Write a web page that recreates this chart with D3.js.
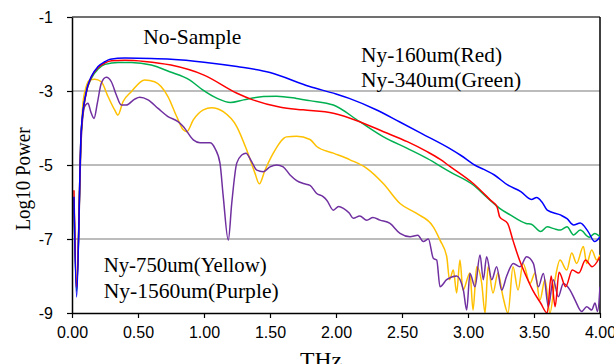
<!DOCTYPE html>
<html>
<head>
<meta charset="utf-8">
<script src="https://cdn.jsdelivr.net/npm/d3@7"></script>
<style>
  body { margin: 0; background: #fff; }
  svg { display: block; }
</style>
</head>
<body>
<div id="chart"></div>
<script>
const MARGIN = { top: 17, right: 14, bottom: 51, left: 72 };
const WIDTH = 614 - MARGIN.left - MARGIN.right;
const HEIGHT = 364 - MARGIN.top - MARGIN.bottom;

// tick values
const xTicks = [0, 0.5, 1, 1.5, 2, 2.5, 3, 3.5, 4];
const yTicks = [-1, -3, -5, -7, -9];
const gridValues = [-3, -5, -7];

// [THz, log10 power]
const noSample = [
  [0.015, -5.86], [0.035, -8.57], [0.07, -4.05], [0.108, -3.02], [0.146, -2.61],
  [0.197, -2.34], [0.248, -2.21], [0.29, -2.14], [0.4, -2.11], [0.6, -2.12],
  [0.75, -2.14], [1.0, -2.22], [1.25, -2.34], [1.5, -2.5], [1.8, -2.88],
  [2.0, -3.08], [2.1, -3.2], [2.3, -3.5], [2.48, -3.83], [2.65, -4.15],
  [2.86, -4.55], [2.95, -4.75], [3.05, -5.0], [3.12, -5.12], [3.2, -5.27],
  [3.3, -5.54], [3.4, -5.72], [3.48, -5.93], [3.52, -5.88], [3.56, -6.0],
  [3.6, -6.22], [3.7, -6.35], [3.75, -6.45], [3.8, -6.62], [3.85, -6.57],
  [3.91, -6.8], [3.96, -7.07], [4.0, -6.94]
];

const ny160 = [
  [0.015, -5.68], [0.035, -8.3], [0.07, -4.1], [0.108, -3.05], [0.146, -2.63],
  [0.2, -2.36], [0.25, -2.24], [0.3, -2.18], [0.4, -2.17], [0.55, -2.2],
  [0.75, -2.3], [1.0, -2.57], [1.25, -3.06], [1.37, -3.24], [1.58, -3.44],
  [1.75, -3.51], [1.98, -3.6], [2.18, -3.83], [2.36, -4.1], [2.54, -4.37],
  [2.69, -4.64], [2.79, -4.85], [2.86, -5.03], [3.04, -5.5], [3.17, -5.95],
  [3.22, -6.13], [3.24, -6.4], [3.3, -6.58], [3.34, -7.03], [3.39, -7.57],
  [3.44, -8.0], [3.49, -8.38], [3.55, -8.73], [3.6, -9.0], [3.63, -8.0],
  [3.66, -8.83], [3.69, -7.9], [3.74, -8.29], [3.79, -7.84], [3.84, -7.92],
  [3.89, -7.57], [3.94, -7.75], [4.0, -7.48]
];

const ny340 = [
  [0.015, -5.9], [0.035, -8.4], [0.07, -4.1], [0.108, -3.05], [0.146, -2.66],
  [0.2, -2.4], [0.25, -2.28], [0.35, -2.23], [0.45, -2.23], [0.6, -2.3],
  [0.74, -2.48], [0.89, -2.7], [0.99, -2.97], [1.1, -3.2], [1.2, -3.31],
  [1.3, -3.24], [1.45, -3.15], [1.55, -3.14], [1.7, -3.2], [1.8, -3.26],
  [1.98, -3.38], [2.18, -3.83], [2.36, -4.24], [2.54, -4.55], [2.69, -4.82],
  [2.86, -5.18], [3.04, -5.54], [3.14, -5.86], [3.24, -6.17], [3.32, -6.35],
  [3.44, -6.58], [3.48, -6.6], [3.55, -6.8], [3.6, -6.67], [3.65, -6.72],
  [3.7, -6.76], [3.75, -6.67], [3.8, -6.89], [3.85, -6.76], [3.92, -6.95],
  [3.96, -6.85], [4.0, -6.94]
];

const ny750 = [
  [0.015, -6.0], [0.035, -8.2], [0.07, -4.2], [0.083, -3.33], [0.108, -2.88],
  [0.134, -2.7], [0.172, -2.68], [0.222, -2.75], [0.273, -3.15], [0.323, -3.51],
  [0.348, -3.65], [0.386, -3.29], [0.449, -3.02], [0.551, -2.7], [0.626, -2.75],
  [0.727, -3.15], [0.793, -3.69], [0.843, -4.05], [0.869, -4.1], [0.919, -3.78],
  [0.995, -3.51], [1.058, -3.45], [1.146, -3.56], [1.248, -3.96], [1.323, -4.59],
  [1.386, -5.22], [1.419, -5.51], [1.462, -5.14], [1.525, -4.68], [1.626, -4.24],
  [1.702, -4.22], [1.803, -4.31], [1.854, -4.5], [1.98, -4.68], [2.106, -4.86],
  [2.233, -5.09], [2.358, -5.5], [2.485, -6.04], [2.611, -6.31], [2.737, -6.67],
  [2.788, -7.03], [2.839, -7.48], [2.86, -8.1], [2.889, -7.84], [2.914, -8.46],
  [2.939, -7.57], [2.962, -8.38], [3.015, -7.92], [3.038, -8.92], [3.066, -7.75],
  [3.104, -8.2], [3.129, -9.0], [3.152, -7.75], [3.189, -8.46], [3.227, -7.92],
  [3.265, -8.56], [3.303, -9.0], [3.341, -7.75], [3.379, -8.38], [3.417, -7.66],
  [3.47, -8.2], [3.508, -7.92], [3.545, -8.65], [3.583, -8.1], [3.621, -9.0],
  [3.659, -8.1], [3.697, -7.57], [3.748, -7.84], [3.786, -7.38], [3.823, -7.66],
  [3.874, -7.2], [3.899, -7.66], [3.937, -7.3], [3.975, -7.57], [4.0, -7.43]
];

const ny1560 = [
  [0.015, -6.1], [0.035, -8.4], [0.07, -4.3], [0.096, -3.42], [0.121, -3.33],
  [0.142, -3.56], [0.167, -3.74], [0.192, -3.33], [0.222, -2.79], [0.26, -2.63],
  [0.298, -2.75], [0.336, -3.11], [0.373, -3.38], [0.411, -3.38], [0.475, -3.22],
  [0.513, -3.17], [0.576, -3.24], [0.652, -3.47], [0.727, -3.69], [0.803, -3.83],
  [0.843, -3.96], [0.919, -4.32], [0.97, -4.4], [1.045, -4.4], [1.083, -4.55],
  [1.121, -4.95], [1.146, -5.86], [1.184, -7.03], [1.21, -6.04], [1.248, -4.95],
  [1.286, -4.73], [1.318, -4.68], [1.361, -4.91], [1.4, -5.14], [1.449, -5.18],
  [1.5, -5.05], [1.551, -5.0], [1.6, -5.05], [1.652, -5.27], [1.702, -5.42],
  [1.752, -5.5], [1.803, -5.55], [1.854, -5.77], [1.9, -5.85], [1.93, -5.95],
  [1.98, -6.22], [2.02, -6.12], [2.056, -6.17], [2.1, -6.3], [2.131, -6.44],
  [2.18, -6.38], [2.233, -6.49], [2.28, -6.42], [2.333, -6.49], [2.409, -6.58],
  [2.485, -6.85], [2.561, -6.94], [2.62, -6.9], [2.661, -7.07], [2.7, -7.0],
  [2.737, -7.52], [2.763, -7.57], [2.788, -8.29], [2.838, -8.1], [2.914, -8.0],
  [2.965, -8.38], [2.99, -8.92], [3.015, -7.93], [3.053, -8.29], [3.091, -7.43],
  [3.116, -8.1], [3.141, -7.48], [3.18, -8.1], [3.217, -7.75], [3.255, -8.38],
  [3.293, -8.0], [3.343, -7.66], [3.394, -7.75], [3.444, -7.48], [3.495, -7.66],
  [3.533, -8.29], [3.571, -7.93], [3.609, -8.83], [3.646, -8.1], [3.684, -8.56],
  [3.722, -8.2], [3.773, -8.38], [3.811, -8.65], [3.861, -8.96], [3.899, -8.83],
  [3.937, -8.92], [3.962, -8.73], [3.982, -8.96], [4.0, -8.29]
];

const series = [
  { name: "Ny-750um", color: "#ffc000", values: ny750 },
  { name: "Ny-1560um", color: "#7030a0", values: ny1560 },
  { name: "Ny-340um", color: "#00b050", values: ny340 },
  { name: "Ny-160um", color: "#ff0000", values: ny160 },
  { name: "No-Sample", color: "#0000ff", values: noSample }
];

// in-plot labels: text, THz, log value (baseline), width in px
const labels = [
  { text: "No-Sample", x: 0.54, y: -1.74, w: 98 },
  { text: "Ny-160um(Red)", x: 2.19, y: -2.21, w: 141 },
  { text: "Ny-340um(Green)", x: 2.19, y: -2.9, w: 160 },
  { text: "Ny-750um(Yellow)", x: 0.24, y: -7.88, w: 163 },
  { text: "Ny-1560um(Purple)", x: 0.24, y: -8.6, w: 175 }
];

const svg = d3.select("#chart").append("svg")
  .attr("width", WIDTH + MARGIN.left + MARGIN.right)
  .attr("height", HEIGHT + MARGIN.top + MARGIN.bottom);

const g = svg.append("g")
  .attr("transform", `translate(${MARGIN.left},${MARGIN.top})`);

const x = d3.scaleLinear().domain([0, 4]).range([0, WIDTH]);
const y = d3.scaleLinear().domain([-9, -1]).range([HEIGHT, 0]);

// gridlines
g.selectAll(".grid")
  .data(gridValues)
  .join("line")
  .attr("x1", 0)
  .attr("x2", WIDTH)
  .attr("y1", d => y(d))
  .attr("y2", d => y(d))
  .attr("stroke", "#a6a6a6")
  .attr("stroke-width", 1.3);

// frame top / right
g.append("line").attr("x1", 0).attr("x2", WIDTH).attr("y1", 0).attr("y2", 0)
  .attr("stroke", "#404040").attr("stroke-width", 1.5);
g.append("line").attr("x1", WIDTH).attr("x2", WIDTH).attr("y1", 0).attr("y2", HEIGHT)
  .attr("stroke", "#000").attr("stroke-width", 1.5);

// series
g.append("clipPath").attr("id", "plot-clip")
  .append("rect").attr("width", WIDTH).attr("height", HEIGHT + 1);

const line = d3.line()
  .x(d => x(d[0]))
  .y(d => y(d[1]))
  .curve(d3.curveMonotoneX);

g.append("g")
  .attr("clip-path", "url(#plot-clip)")
  .selectAll("path")
  .data(series)
  .join("path")
  .attr("d", d => line(d.values))
  .attr("fill", "none")
  .attr("stroke", d => d.color)
  .attr("stroke-width", 1.5)
  .attr("stroke-linejoin", "round");

// axes
const xAxis = g.append("g")
  .attr("transform", `translate(0,${HEIGHT})`)
  .call(d3.axisBottom(x).tickValues(xTicks).tickFormat(d3.format(".2f")).tickSize(5).tickSizeOuter(0));
const yAxis = g.append("g")
  .call(d3.axisLeft(y).tickValues(yTicks).tickFormat(d => String(d)).tickSize(5).tickSizeOuter(0));

[xAxis, yAxis].forEach(a => {
  a.select(".domain").attr("stroke", "#000").attr("stroke-width", 1.5);
  a.selectAll(".tick line").attr("stroke", "#000").attr("stroke-width", 1.2);
  a.selectAll("text")
    .attr("font-family", "'Liberation Sans', Arial, sans-serif")
    .attr("font-size", "16px")
    .attr("fill", "#000");
});
xAxis.selectAll("text").attr("dy", null).attr("y", 25);
yAxis.selectAll("text").attr("x", -19).attr("dy", "0.35em");

// series labels
g.selectAll(".series-label")
  .data(labels)
  .join("text")
  .attr("x", d => x(d.x))
  .attr("y", d => y(d.y))
  .attr("textLength", d => d.w)
  .attr("lengthAdjust", "spacingAndGlyphs")
  .attr("font-family", "'Liberation Serif', 'DejaVu Serif', serif")
  .attr("font-size", "21px")
  .attr("fill", "#000")
  .text(d => d.text);

// axis titles
svg.append("text")
  .attr("x", 321)
  .attr("y", 367)
  .attr("text-anchor", "middle")
  .attr("textLength", 42)
  .attr("lengthAdjust", "spacingAndGlyphs")
  .attr("font-family", "'Liberation Serif', 'DejaVu Serif', serif")
  .attr("font-size", "22px")
  .text("THz");

svg.append("text")
  .attr("transform", "translate(30,179) rotate(-90)")
  .attr("text-anchor", "middle")
  .attr("textLength", 103)
  .attr("lengthAdjust", "spacingAndGlyphs")
  .attr("font-family", "'Liberation Serif', 'DejaVu Serif', serif")
  .attr("font-size", "20px")
  .text("Log10 Power");
</script>
</body>
</html>
